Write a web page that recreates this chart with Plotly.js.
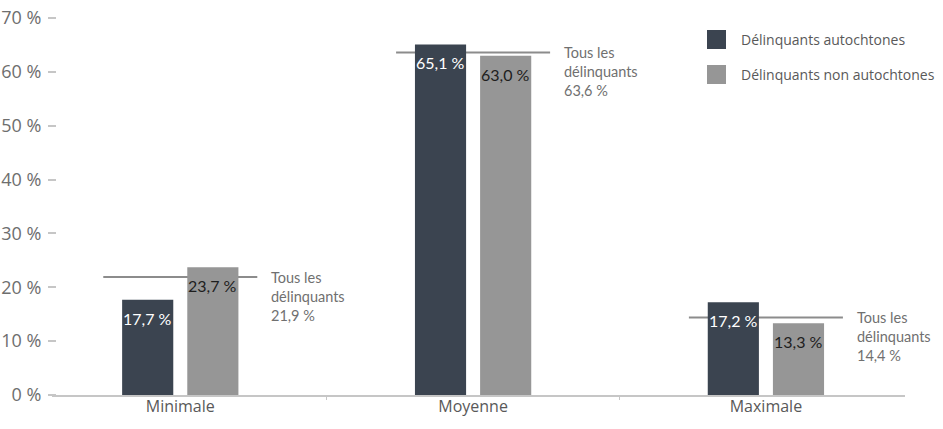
<!DOCTYPE html>
<html>
<head>
<meta charset="utf-8">
<script src="https://cdn.plot.ly/plotly-3.0.1.min.js"></script>
<style>html,body{margin:0;padding:0;background:#fff;}#chart{width:943px;height:429px;}</style>
</head>
<body>
<div id="chart"></div>
<script>
const categories = ['Minimale', 'Moyenne', 'Maximale'];
const seriesNames = ['Délinquants autochtones', 'Délinquants non autochtones'];
const autochtones = [17.7, 65.1, 17.2];
const nonAutochtones = [23.7, 63.0, 13.3];
const tousDelinquants = [21.9, 63.6, 14.4];
const totalLabel = ['Tous les', 'délinquants'];
const yTickVals = [0, 10, 20, 30, 40, 50, 60, 70];
const yTickText = ['0 %', '10 %', '20 %', '30 %', '40 %', '50 %', '60 %', '70 %'];

const colors = ['#3b4450', '#969696'];
const labelColors = ['#ffffff', '#1e1e1e'];
const fmt = v => v.toFixed(1).replace('.', ',') + ' %';

const W = 943, H = 429;
const M = {l: 57, r: 38, t: 18, b: 34};
const PW = W - M.l - M.r, PH = H - M.t - M.b;
const px = x => (x - M.l) / PW;
const py = y => (H - M.b - y) / PH;

const bargap = 0.555, bargroupgap = 0.215;
const slot = (1 - bargap) / 2;

const series = [autochtones, nonAutochtones];
const traces = series.map((vals, k) => ({
  type: 'bar',
  name: seriesNames[k],
  x: categories,
  y: vals,
  marker: {color: colors[k]},
  hoverinfo: 'none'
}));

const shapes = [];
const annotations = [];

// x axis base line
shapes.push({type: 'line', xref: 'paper', yref: 'paper', x0: px(52), x1: px(905), y0: py(396), y1: py(396),
  line: {color: '#c6c6c6', width: 2}, layer: 'above'});

// bar value labels
series.forEach((vals, k) => {
  vals.forEach((v, i) => {
    annotations.push({
      xref: 'x', yref: 'y', x: i + (k === 0 ? -slot / 2 : slot / 2), y: v,
      text: fmt(v), showarrow: false, yanchor: 'middle', xanchor: 'center', yshift: -18.5,
      font: {family: 'Lato, "Open Sans", sans-serif', size: 16, color: labelColors[k]}
    });
  });
});

// "Tous les délinquants" reference lines + labels
tousDelinquants.forEach((v, i) => {
  shapes.push({type: 'line', xref: 'x', yref: 'y', x0: i - 0.263, x1: i + 0.263, y0: v, y1: v,
    line: {color: '#8c8c8c', width: 2}, layer: 'below'});
  annotations.push({
    xref: 'x', yref: 'y', x: i + 0.303, y: v,
    text: totalLabel[0] + '<br>' + totalLabel[1] + '<br>' + fmt(v),
    showarrow: false, xanchor: 'left', yanchor: 'top', align: 'left', yshift: 10,
    font: {family: 'Lato, "Open Sans", sans-serif', size: 14.5, color: '#707070'}
  });
});

// custom legend
seriesNames.forEach((name, k) => {
  const top = 30 + k * 35;
  shapes.push({type: 'rect', xref: 'paper', yref: 'paper', x0: px(707), x1: px(726), y0: py(top + 19), y1: py(top),
    fillcolor: colors[k], line: {width: 0}});
  annotations.push({
    xref: 'paper', yref: 'paper', x: px(739), y: py(top + 9.5), text: name, showarrow: false,
    xanchor: 'left', yanchor: 'middle',
    font: {family: '"Open Sans", sans-serif', size: 14, color: '#595959'}
  });
});

const layout = {
  width: W, height: H,
  margin: M,
  paper_bgcolor: '#ffffff', plot_bgcolor: '#ffffff',
  showlegend: false,
  barmode: 'group', bargap: bargap, bargroupgap: bargroupgap,
  xaxis: {
    type: 'category', range: [-0.421, 2.475], tickson: 'boundaries',
    ticks: 'outside', ticklen: 4, tickwidth: 1.5, tickcolor: '#c6c6c6',
    showgrid: false, showline: false, zeroline: false,
    tickfont: {family: '"Open Sans", sans-serif', size: 16, color: '#595959'}
  },
  yaxis: {
    range: [0, 70], tickvals: yTickVals, ticktext: yTickText,
    ticks: 'outside', ticklen: 8, tickwidth: 2, tickcolor: '#c6c6c6', ticklabelstandoff: 3,
    showgrid: false, showline: false, zeroline: false,
    tickfont: {family: '"Open Sans", sans-serif', size: 18, color: '#6e6e6e'}
  },
  shapes: shapes,
  annotations: annotations
};

Plotly.newPlot('chart', traces, layout, {staticPlot: true, displayModeBar: false});
</script>
</body>
</html>
